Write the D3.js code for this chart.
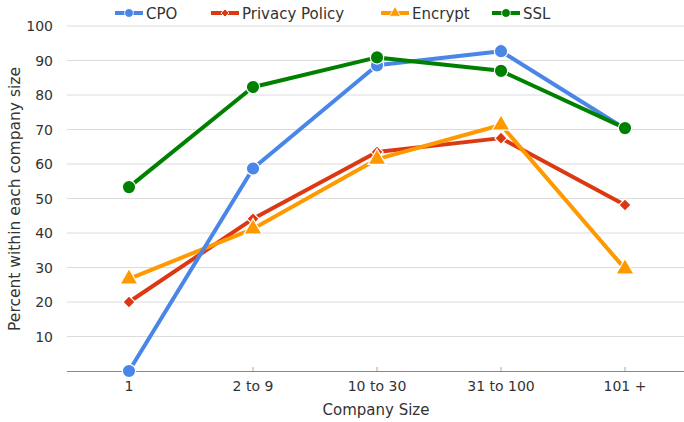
<!DOCTYPE html>
<html>
<head>
<meta charset="utf-8">
<script src="https://cdn.jsdelivr.net/npm/d3@7"></script>
<style>
body { margin: 0; background: #fff; }
text { font-family: "DejaVu Sans", sans-serif; fill: #333; }
</style>
</head>
<body>
<script>
var sizes = ["1", "2 to 9", "10 to 30", "31 to 100", "101 +"];
var cpo = [0, 58.7, 88.6, 92.7, 70.2];
var privacy = [20, 44.1, 63.5, 67.5, 48.1];
var encrypt = [26.7, 41.2, 61.4, 71.3, 29.6];
var ssl = [53.3, 82.3, 90.9, 87, 70.4];
var yTicks = [10, 20, 30, 40, 50, 60, 70, 80, 90, 100];

var series = [
	{name: "CPO", values: cpo, color: "#4a86e8", shape: "circle"},
	{name: "Privacy Policy", values: privacy, color: "#dc3912", shape: "diamond"},
	{name: "Encrypt", values: encrypt, color: "#ff9900", shape: "triangle"},
	{name: "SSL", values: ssl, color: "#008000", shape: "circle"}
];

var width = 684, height = 422;
var svg = d3.select("body").append("svg")
	.attr("width", width)
	.attr("height", height);

var x = d3.scaleBand().domain(sizes).range([67, 687]);
var y = d3.scaleLinear().domain([0, 100]).range([371, 26]);

// gridlines
svg.append("g").selectAll("line")
	.data(yTicks)
	.enter().append("line")
	.attr("x1", 67).attr("x2", width)
	.attr("y1", function(d){return y(d);})
	.attr("y2", function(d){return y(d);})
	.attr("stroke", "#dcdcdc")
	.attr("stroke-width", 1);

// y labels
svg.append("g").selectAll("text")
	.data(yTicks)
	.enter().append("text")
	.attr("x", 53)
	.attr("y", function(d){return y(d) + 5;})
	.attr("text-anchor", "end")
	.style("font-size", "14px")
	.text(function(d){return d;});

// x axis
var xAxis = svg.append("g")
	.attr("transform", "translate(0," + y(0) + ")")
	.call(d3.axisBottom(x).tickSizeInner(-4).tickSizeOuter(0).tickPadding(10));
xAxis.select(".domain").attr("stroke", "#888").attr("d", "M67,0.5H" + width);
xAxis.selectAll(".tick line").attr("stroke", "#aaa").attr("y2", -4);
xAxis.selectAll(".tick text")
	.style("font-family", "DejaVu Sans, sans-serif")
	.style("font-size", "14px")
	.attr("fill", "#333");

svg.append("text")
	.attr("x", 376).attr("y", 415)
	.attr("text-anchor", "middle")
	.style("font-size", "15px")
	.text("Company Size");

svg.append("text")
	.attr("transform", "translate(20,199) rotate(-90)")
	.attr("text-anchor", "middle")
	.style("font-size", "15.5px")
	.text("Percent within each company size");

var line = d3.line()
	.x(function(d, i){return x(sizes[i]) + x.bandwidth() / 2;})
	.y(function(d){return y(d);});

function symbolFor(s, big){
	if (s.shape === "diamond") return d3.symbol().type(d3.symbolSquare).size(big ? 75 : 32)();
	if (s.shape === "triangle") return d3.symbol().type(d3.symbolTriangle).size(big ? 140 : 55)();
	return d3.symbol().type(d3.symbolCircle).size(big ? 140 : 60)();
}

var drawOrder = [series[1], series[2], series[0], series[3]];
drawOrder.forEach(function(s){
	var g = svg.append("g");
	g.append("path")
		.datum(s.values)
		.attr("d", line)
		.attr("fill", "none")
		.attr("stroke", s.color)
		.attr("stroke-width", 4)
		.attr("stroke-linejoin", "round");
	g.selectAll("path.pt")
		.data(s.values)
		.enter().append("path")
		.attr("class", "pt")
		.attr("transform", function(d, i){
			var rot = s.shape === "diamond" ? " rotate(45)" : "";
			return "translate(" + (x(sizes[i]) + x.bandwidth() / 2) + "," + y(d) + ")" + rot;
		})
		.attr("d", symbolFor(s, true))
		.attr("fill", s.color)
		.attr("stroke", "#fff")
		.attr("stroke-width", 1.2);
});

// legend
var legendX = [115, 211, 381, 492];
var legend = svg.append("g").selectAll("g")
	.data(series)
	.enter().append("g")
	.attr("transform", function(d, i){return "translate(" + legendX[i] + ",13)";});
legend.append("line")
	.attr("x1", 0).attr("x2", 28)
	.attr("stroke", function(d){return d.color;})
	.attr("stroke-width", 4);
legend.append("path")
	.attr("transform", function(d){return "translate(14,0)" + (d.shape === "diamond" ? " rotate(45)" : "");})
	.attr("d", function(d){return symbolFor(d, false);})
	.attr("fill", function(d){return d.color;})
	.attr("stroke", "#fff")
	.attr("stroke-width", 0.8);
legend.append("text")
	.attr("x", 31).attr("y", 6)
	.style("font-size", "15px")
	.text(function(d){return d.name;});
</script>
</body>
</html>
